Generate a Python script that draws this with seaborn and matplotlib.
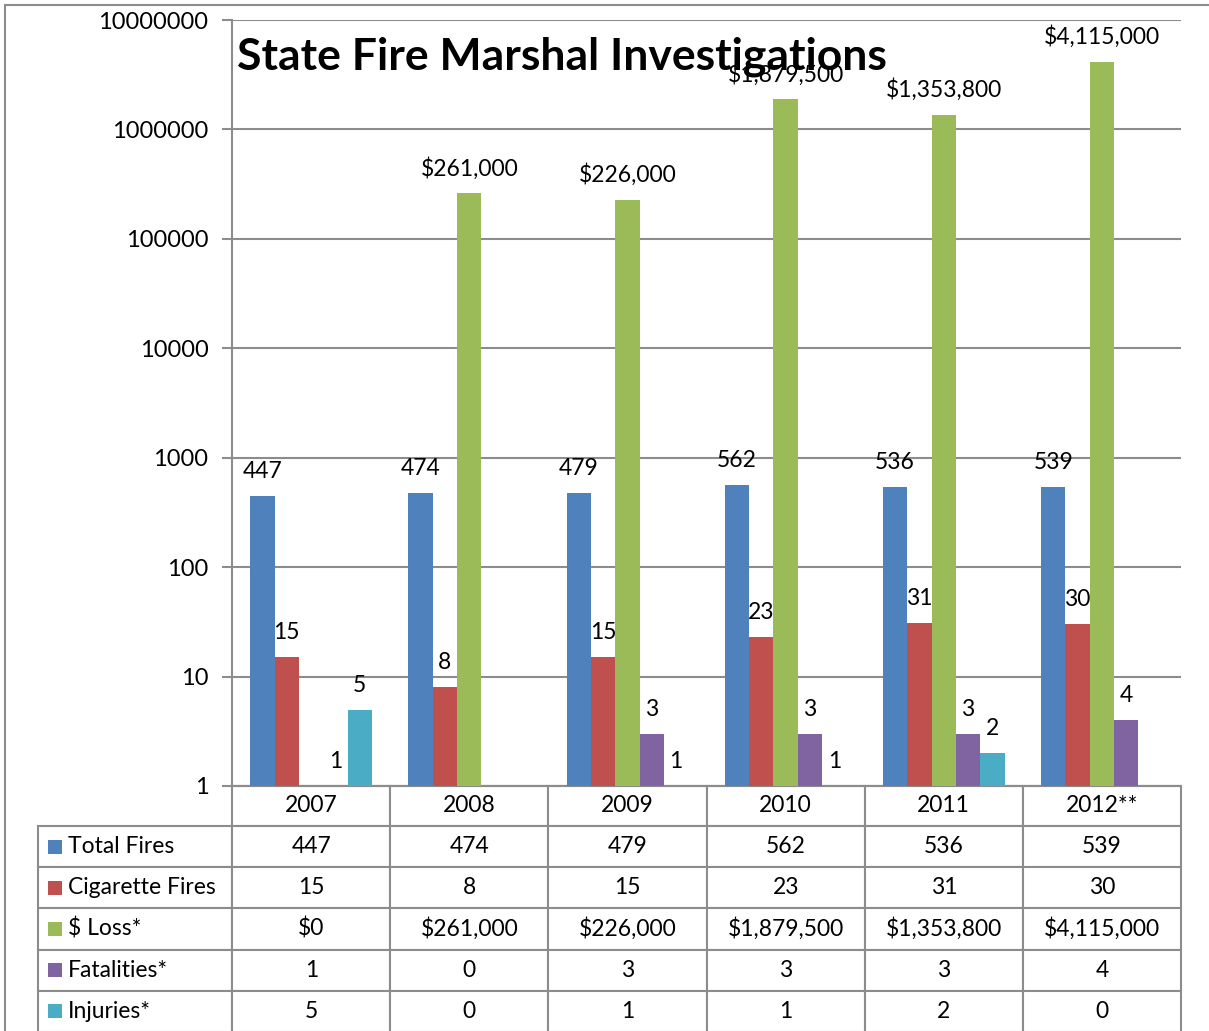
import pandas as pd
import numpy as np

import matplotlib.pyplot as plt
import seaborn as sns
from matplotlib.patches import Rectangle

years = ['2007', '2008', '2009', '2010', '2011', '2012**']
series = ['Total Fires', 'Cigarette Fires', '$ Loss*', 'Fatalities*', 'Injuries*']
total_fires = [447, 474, 479, 562, 536, 539]
cigarette_fires = [15, 8, 15, 23, 31, 30]
dollar_loss = [0, 261000, 226000, 1879500, 1353800, 4115000]
fatalities = [1, 0, 3, 3, 3, 4]
injuries = [5, 0, 1, 1, 2, 0]
colors = ['#4F81BD', '#C0504D', '#9BBB59', '#8064A2', '#4BACC6']
yticks = [1, 10, 100, 1000, 10000, 100000, 1000000, 10000000]

values = [total_fires, cigarette_fires, dollar_loss, fatalities, injuries]

sns.set_style('white')
plt.rcParams['font.family'] = ['Lato', 'DejaVu Sans']
plt.rcParams['text.color'] = 'black'

df = pd.DataFrame({
    'Year': years * len(series),
    'Series': np.repeat(series, len(years)),
    'Value': np.concatenate(values),
})
# log axis: zero values have no bar and no label
plot_df = df[df['Value'] > 0]

W, H = 1209, 1031
fig = plt.figure(figsize=(W / 100, H / 100), dpi=100)
ax = fig.add_axes([232 / W, 1 - 786 / H, 949 / W, 766 / H])
ax.set_yscale('log')

grid_c = '#8c8c8c'
sns.barplot(data=plot_df, x='Year', y='Value', hue='Series', order=years,
            hue_order=series, palette=colors, width=0.77, linewidth=0,
            saturation=1, legend=False, ax=ax, zorder=3)

ax.set_ylim(1, 10000000)
ax.set_xlim(-0.5, len(years) - 0.5)
ax.set_yticks(yticks)
ax.set_yticklabels([str(v) for v in yticks])
ax.minorticks_off()
ax.yaxis.grid(True, color=grid_c, linewidth=1.5, zorder=0)
ax.set_axisbelow(True)
ax.tick_params(axis='y', length=7, width=1.5, color=grid_c, pad=10, labelsize=17,
               labelcolor='black', left=True)
ax.tick_params(axis='x', length=0, labelbottom=False)
ax.set_xlabel('')
ax.set_ylabel('')
for s in ['top', 'right']:
    ax.spines[s].set_visible(False)
for s in ['left', 'bottom']:
    ax.spines[s].set_color(grid_c)
    ax.spines[s].set_linewidth(1.5)

for cont, name in zip(ax.containers, series):
    if name == '$ Loss*':
        ax.bar_label(cont, fmt='${:,.0f}', padding=10, fontsize=16.5)
    else:
        ax.bar_label(cont, fmt='{:,.0f}', padding=10, fontsize=16.5)

# data table under the chart: first column holds the series names
cell_text = [[''] + years]
for name, vals in zip(series, values):
    if name == '$ Loss*':
        cell_text.append([name] + ['${:,.0f}'.format(v) for v in vals])
    else:
        cell_text.append([name] + [str(v) for v in vals])

tb = ax.table(cellText=cell_text, cellLoc='center',
              bbox=[-194 / 949, -246 / 766, 1 + 194 / 949, 246 / 766])
tb.auto_set_font_size(False)
tb.set_fontsize(16.5)
for (r, c), cell in tb.get_celld().items():
    cell.set_edgecolor(grid_c)
    cell.set_linewidth(1.5)
    cell.set_height(40 if r == 0 else 41.2)
    cell.set_width(194 if c == 0 else 158)
    cell.get_text().set_color('black')
    if c == 0:
        cell._loc = 'left'
        cell.PAD = 30 / 194
        cell.get_text().set_horizontalalignment('left')
        if r == 0:
            cell.set_visible(False)

# colour keys in the row labels
for i, col in enumerate(colors):
    yc = 826 + 41.2 * i + 20.6
    fig.add_artist(Rectangle((48 / W, 1 - (yc + 7) / H), 14 / W, 14 / H,
                             transform=fig.transFigure, facecolor=col,
                             edgecolor='none', zorder=20))

# outer chart frame
fig.add_artist(Rectangle((5 / W, -0.1), 1.2, 1 - 5 / H + 0.1, transform=fig.transFigure,
                         fill=False, edgecolor=grid_c, linewidth=1.5))

fig.text(237 / W, 1 - 57 / H, 'State Fire Marshal Investigations', fontsize=32,
         fontweight='bold', ha='left', va='center', zorder=10)

fig.savefig('out.png', dpi=100)
